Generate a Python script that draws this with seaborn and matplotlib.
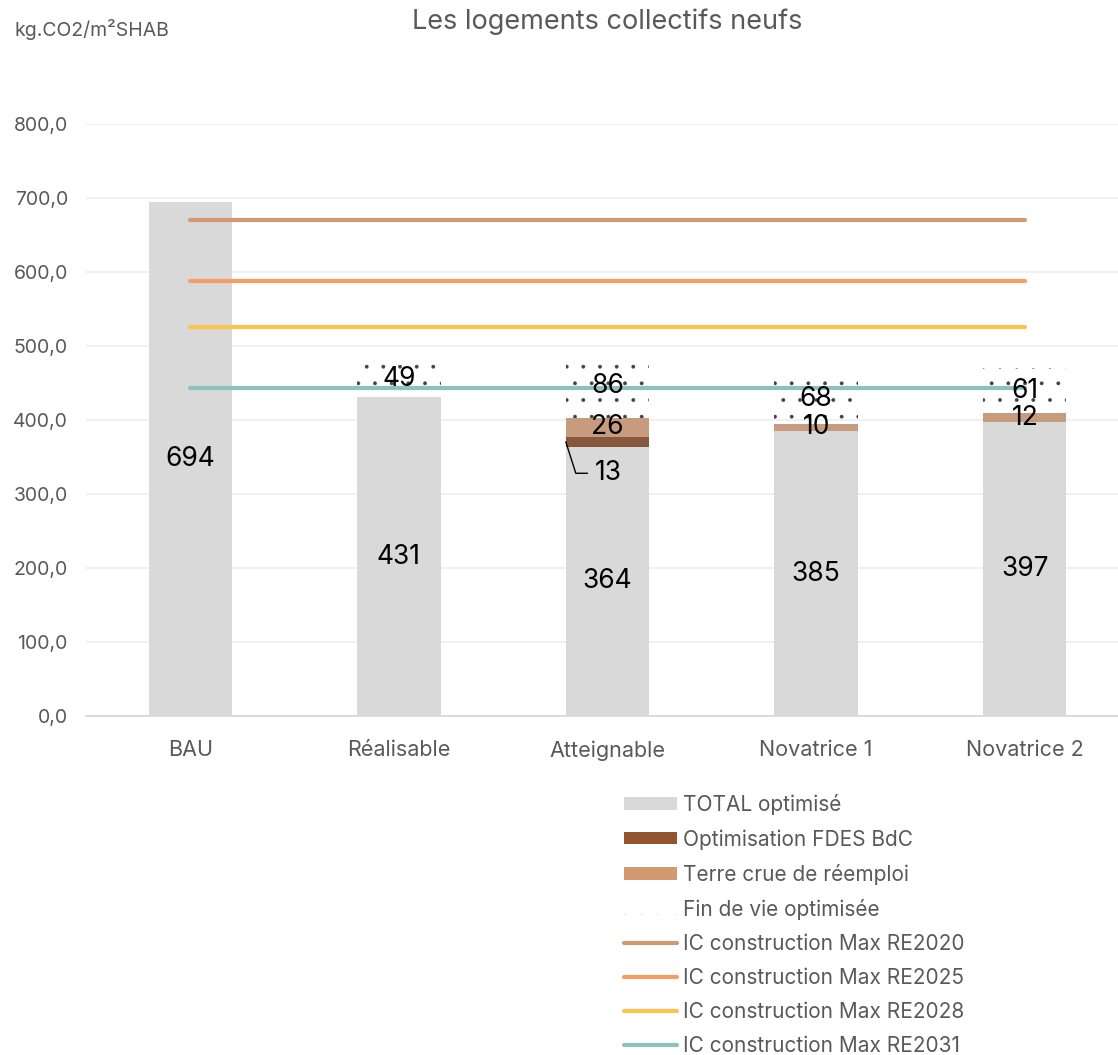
import numpy as np
import pandas as pd
import matplotlib.pyplot as plt
from matplotlib.patches import Patch
from matplotlib.lines import Line2D
from matplotlib.ticker import FuncFormatter
import seaborn as sns

categories = ["BAU", "Réalisable", "Atteignable", "Novatrice 1", "Novatrice 2"]
total_optimise = [694, 431, 364, 385, 397]
optim_fdes = [0, 0, 13, 0, 0]
terre_crue = [0, 0, 26, 10, 12]
fin_de_vie = [0, 49, 86, 68, 61]

seg_labels = ["TOTAL optimisé", "Optimisation FDES BdC", "Terre crue de réemploi", "Fin de vie optimisée"]
re_labels = ["IC construction Max RE2020", "IC construction Max RE2025",
             "IC construction Max RE2028", "IC construction Max RE2031"]
re_values = [670, 588, 526, 443]

c_total = "#d9d9d9"
c_fdes = "#935432"
c_terre = "#d39a72"
c_dots = "#3b4256"
re_colors = ["#d19a72", "#f79c63", "#fcc44c", "#8dc2bc"]
text_grey = "#595959"

sns.set_style("white")
plt.rcParams['font.family'] = ['Inter', 'DejaVu Sans']
plt.rcParams['hatch.linewidth'] = 0.3

df = pd.DataFrame({'cat': categories, 'total': total_optimise, 'fdes': optim_fdes,
                   'terre': terre_crue, 'fin': fin_de_vie})
df['c1'] = df['total']
df['c2'] = df['c1'] + df['fdes']
df['c3'] = df['c2'] + df['terre']
df['c4'] = df['c3'] + df['fin']
df['pos'] = np.arange(len(df))

fig = plt.figure(figsize=(11.18, 10.55), dpi=100)
ax = fig.add_axes([0.0769, 0.3213, 0.933, 0.5612])

bw = 0.4
# stacked bars drawn from the top cumulative down, opaque layers hide the ones below
sns.barplot(data=df, x='cat', y='c4', ax=ax, width=bw, errorbar=None,
            facecolor='none', edgecolor=c_dots, linewidth=0, hatch='.', zorder=2)
sns.barplot(data=df, x='cat', y='c3', ax=ax, width=bw, errorbar=None,
            color=c_terre, linewidth=0, zorder=2)
sns.barplot(data=df, x='cat', y='c2', ax=ax, width=bw, errorbar=None,
            color=c_fdes, linewidth=0, zorder=2)
sns.barplot(data=df, x='cat', y='c1', ax=ax, width=bw, errorbar=None,
            color=c_total, linewidth=0, zorder=2)

for val, col in zip(re_values, re_colors):
    sns.lineplot(x=df['pos'], y=[val] * len(df), ax=ax, color=col, linewidth=3, zorder=3)

# data labels
lbl_kw = dict(ha='center', va='center', fontsize=19, color='black', zorder=5)
for i, r in df.iterrows():
    ax.text(i, r['total'] / 2, f"{r['total']}", **lbl_kw)
    if r['terre'] > 0:
        ax.text(i, r['c2'] + r['terre'] / 2, f"{r['terre']}", **lbl_kw)
    if r['fin'] > 0:
        ax.text(i, r['c3'] + r['fin'] / 2, f"{r['fin']}", **lbl_kw)
    if r['fdes'] > 0:
        ax.text(i - 0.06, r['c1'] - 36, f"{r['fdes']}", ha='left', va='center', fontsize=19, color='black')
        ax.plot([i - bw / 2, i - bw / 2 + 0.048, i - bw / 2 + 0.104],
                [r['c1'] + r['fdes'] / 2, r['c1'] - 36, r['c1'] - 36], color='black', lw=1, zorder=5)

ax.set_xlim(-0.5, len(categories) - 0.5)
ax.set_ylim(0, 800)
ax.set_yticks(range(0, 801, 100))
ax.yaxis.set_major_formatter(FuncFormatter(lambda v, p: f"{v:.1f}".replace('.', ',')))
ax.grid(axis='y', color='#efefef', linewidth=1.3)
ax.set_axisbelow(True)
for s in ['top', 'right', 'left']:
    ax.spines[s].set_visible(False)
ax.spines['bottom'].set_color('#d9d9d9')
ax.spines['bottom'].set_linewidth(1.3)
ax.tick_params(axis='both', length=0, labelcolor=text_grey)
ax.tick_params(axis='y', pad=13, labelsize=14)
ax.tick_params(axis='x', pad=17.5, labelsize=15.5)
ax.set_xlabel('')
ax.set_ylabel('')

fig.text(0.5435, 1 - 22 / 1055, "Les logements collectifs neufs", ha='center', va='center',
         fontsize=19.5, color=text_grey)
fig.text(14 / 1118, 1 - 30 / 1055, "kg.CO2/m²SHAB", ha='left', va='center', fontsize=14, color=text_grey)

handles = [Patch(facecolor=c_total, linewidth=0),
           Patch(facecolor=c_fdes, linewidth=0),
           Patch(facecolor=c_terre, linewidth=0),
           Patch(facecolor='none', edgecolor=c_dots, linewidth=0, hatch='.')]
handles += [Line2D([0], [0], color=c, lw=3) for c in re_colors]
leg = fig.legend(handles, seg_labels + re_labels, loc='upper left',
                 bbox_to_anchor=(624 / 1118, 1 - 794 / 1055), frameon=False,
                 fontsize=15, handlelength=2.55, handleheight=0.55, handletextpad=0.3,
                 labelspacing=0.675, borderpad=0, borderaxespad=0)
for t in leg.get_texts():
    t.set_color(text_grey)

fig.savefig("out.png", dpi=100)
